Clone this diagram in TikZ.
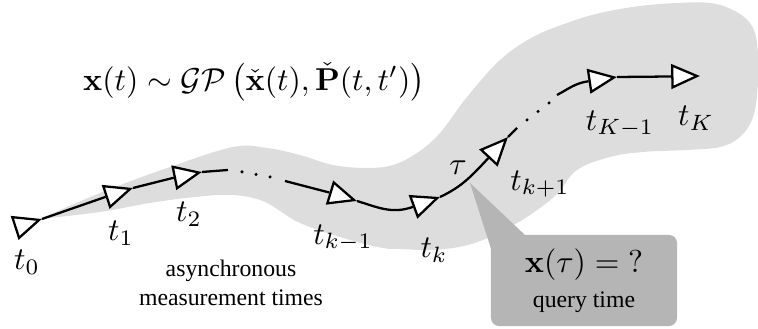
\documentclass[tikz,border=0pt]{standalone}
\usepackage[no-math]{fontspec}
\setmainfont{Liberation Serif}
\usetikzlibrary{shapes.geometric,calc}
\definecolor{blobgray}{RGB}{221,221,221}
\definecolor{callgray}{RGB}{181,181,181}
\begin{document}
\begin{tikzpicture}[x=0.316pt,y=0.316pt,
  conn/.style={line width=0.72pt,black},
  tri/.style={isosceles triangle,isosceles triangle stretches,draw=black,fill=white,line width=0.72pt,
    inner sep=0pt,minimum width=6.9pt,minimum height=7.8pt,anchor=apex},
  lbl/.style={inner sep=0pt,font=\fontsize{10}{12}\selectfont},
  small/.style={font=\fontsize{7.5}{9}\selectfont},
  dotm/.style={fill=black}]
\useasboundingbox (0,0) rectangle (758,-329);
% blob
\fill[blobgray] plot[smooth,tension=0.6] coordinates {(40,-219) (100,-193) (167,-168) (233,-147) (267,-148) (300,-155) (333,-165) (367,-168) (393,-165) (417,-153) (440,-133) (467,-97) (500,-60) (533,-37) (567,-23) (600,-13) (640,-6) (677,-3) (710,-3) (733,-10) (750,-23) (757,-43) (758,-83) (753,-117) (740,-137) (720,-147) (687,-150) (643,-152) (610,-157) (577,-170) (556,-195) (530,-215) (508,-228) (483,-240) (459,-247) (430,-250) (400,-249) (383,-248) (350,-240) (300,-223) (265,-202) (233,-195) (195,-197) (150,-203) (100,-212) (40,-219)} -- cycle;
% callout
\coordinate (ptip) at (470,-183);
\fill[callgray] (ptip) -- (492,-252) -- (526,-236) -- cycle;
\node[fill=callgray,rounded corners=2.6pt,minimum width=58.8pt,minimum height=28.8pt,inner sep=0pt,align=center] (qbox) at (584,-280.5)
  {$\mathbf{x}(\tau) = \mathord{?}$\\[-1pt]{\fontsize{7.5}{9}\selectfont query time}};
% triangles
\node[tri,rotate=18] (n0) at (42,-219) {};
\node[tri,rotate=18] (n1) at (133,-188) {};
\node[tri,rotate=11.5] (n2) at (202,-172) {};
\node[tri,rotate=-17] (nkm1) at (357,-201) {};
\node[tri,rotate=20] (nk) at (440,-197) {};
\node[tri,rotate=47] (nkp1) at (508,-137) {};
\node[tri,rotate=8.5] (nKm1) at (617,-77) {};
\node[tri,rotate=1] (nK) at (700,-76) {};
\coordinate (c1) at (228,-170);
\coordinate (c2) at (285,-181);
\coordinate (c3) at (517,-128);
\coordinate (c4) at (557,-95);
\coordinate (d1) at (242,-172);
\coordinate (d2) at (256,-174.5);
\coordinate (d3) at (270,-177);
\coordinate (e1) at (527,-120);
\coordinate (e2) at (538,-111.5);
\coordinate (e3) at (549,-103);
% connectors
\draw[conn] (n0.apex) -- (n1.lower side);
\draw[conn] (n1.apex) -- (n2.lower side);
\draw[conn] (n2.apex) -- (c1);
\draw[conn] (c2) -- (nkm1.lower side);
\draw[conn] (nkm1.apex) to[out=-17,in=200] (nk.lower side);
\draw[conn] (nk.apex) to[out=25,in=227] (nkp1.lower side);
\draw[conn] (nkp1.apex) -- (c3);
\draw[conn] (c4) to[out=28,in=188] (nKm1.lower side);
\draw[conn] (nKm1.apex) -- (nK.lower side);
\foreach \d in {d1,d2,d3,e1,e2,e3} \fill[dotm] (\d) circle (0.55pt);
% labels
\node[lbl] (l0) at (27,-262) {$t_0$};
\node[lbl] (l1) at (121,-233) {$t_1$};
\node[lbl] (l2) at (189,-214) {$t_2$};
\node[lbl] (lkm1) at (343,-238) {$t_{k-1}$};
\node[lbl] (lk) at (434,-250) {$t_k$};
\node[lbl] (ltau) at (458,-168) {$\tau$};
\node[lbl] (lkp1) at (540,-184) {$t_{k+1}$};
\node[lbl] (lKm1) at (620,-124) {$t_{K-1}$};
\node[lbl] (lK) at (696,-118) {$t_K$};
\node[lbl] (eq) at (254,-82) {$\mathbf{x}(t)\sim\mathcal{GP}\left(\check{\mathbf{x}}(t),\check{\mathbf{P}}(t,t')\right)$};
\node[small,align=center,inner sep=0pt] (async) at (231,-283) {asynchronous\\measurement times};
\end{tikzpicture}
\end{document}
